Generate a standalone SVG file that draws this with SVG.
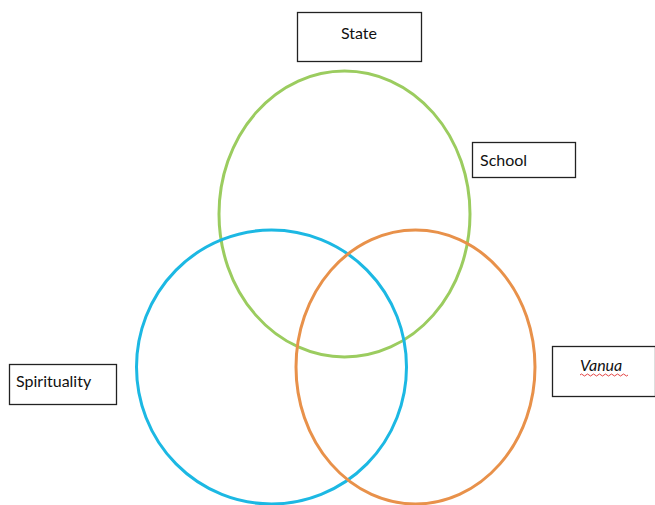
<svg xmlns="http://www.w3.org/2000/svg" width="655" height="505" viewBox="0 0 655 505">
<style>
.box{fill:#fff;stroke:#222;stroke-width:1.3}
.lbl{font-family:Lato,"Open Sans","Liberation Sans",sans-serif;font-size:16px;fill:#111}
.c{fill:none;stroke-width:3}
</style>
<rect width="655" height="505" fill="#fff"/>
<g id="connectors">
<ellipse id="green" class="c" cx="344.5" cy="214" rx="125.5" ry="143" stroke="#9bcc5f"/>
<ellipse id="blue" class="c" cx="271.5" cy="367" rx="135" ry="137" stroke="#1cb8e3"/>
<ellipse id="orange" class="c" cx="415.5" cy="367" rx="119.5" ry="137" stroke="#e8914a"/>
</g>
<g id="state"><rect class="box" x="297.5" y="12.5" width="124" height="49"/><text class="lbl" x="359" y="39" text-anchor="middle">State</text></g>
<g id="school"><rect class="box" x="472.5" y="142.5" width="103" height="35"/><text class="lbl" x="480" y="166">School</text></g>
<g id="spirituality"><rect class="box" x="9.5" y="364.5" width="107" height="40"/><text class="lbl" x="16" y="387">Spirituality</text></g>
<g id="vanua"><rect class="box" x="552.5" y="346.5" width="103" height="50"/><text class="lbl" x="580" y="371" font-style="italic">Vanua</text>
<path d="M580 375 q1.5 -2 3 0 t3 0 t3 0 t3 0 t3 0 t3 0 t3 0 t3 0 t3 0 t3 0 t3 0 t3 0 t3 0 t3 0 t3 0 t3 0" fill="none" stroke="#e03030" stroke-width="0.9"/></g>
</svg>
